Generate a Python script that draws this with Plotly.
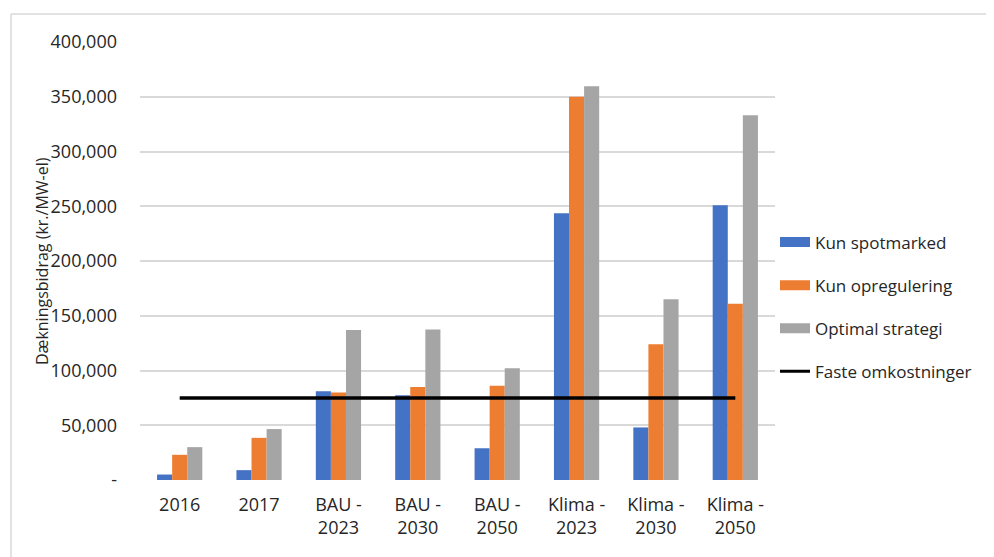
import plotly.graph_objects as go

# categories and series (kr./MW-el)
categories = ["2016", "2017", "BAU -<br>2023", "BAU -<br>2030", "BAU -<br>2050",
              "Klima -<br>2023", "Klima -<br>2030", "Klima -<br>2050"]
kun_spotmarked = [5000, 9000, 81000, 77500, 29000, 243500, 48000, 251000]
kun_opregulering = [23000, 38500, 80000, 85000, 86000, 350000, 124000, 161000]
optimal_strategi = [30000, 46500, 137000, 137500, 102000, 359500, 165000, 333000]
faste_omkostninger = [75000] * len(categories)

y_tickvals = [0, 50000, 100000, 150000, 200000, 250000, 300000, 350000, 400000]
y_ticktext = ["-", "50,000", "100,000", "150,000", "200,000", "250,000",
              "300,000", "350,000", "400,000"]

FONT = "Open Sans"
series = [
    ("Kun spotmarked", kun_spotmarked, "#4472C4"),
    ("Kun opregulering", kun_opregulering, "#ED7D31"),
    ("Optimal strategi", optimal_strategi, "#A5A5A5"),
]

fig = go.Figure()

for name, vals, color in series:
    fig.add_trace(go.Bar(x=categories, y=vals, name=name, marker_color=color,
                         marker_line_width=0, showlegend=False))

fig.add_trace(go.Scatter(x=categories, y=faste_omkostninger, mode="lines",
                         line=dict(color="black", width=3.5), showlegend=False))

# legend entries drawn as wide swatches
for i, (name, vals, color) in enumerate(series):
    fig.add_trace(go.Scatter(x=[None], y=[None], mode="lines", name=name,
                             legendgroup=str(i), line=dict(color=color, width=10)))
fig.add_trace(go.Scatter(x=[None], y=[None], mode="lines", name="Faste omkostninger",
                         legendgroup="3", line=dict(color="black", width=3)))

# page is drawn with an 8px body margin, so work in figure pixels = screen - 8
PL, PT, PW, PH = 132, 34, 635, 438


def px_x(x):
    return (x - 8 - PL) / PW


def px_y(y):
    return 1 - (y - 8 - PT) / PH


# outer frame (left and top edges)
fig.add_shape(type="line", xref="paper", yref="paper",
              x0=px_x(11), x1=px_x(11), y0=px_y(14), y1=-0.5,
              line=dict(color="#d9d9d9", width=1.5))
fig.add_shape(type="line", xref="paper", yref="paper",
              x0=px_x(11), x1=1.5, y0=px_y(14), y1=px_y(14),
              line=dict(color="#d9d9d9", width=1.5))

fig.add_annotation(text="Dækningsbidrag (kr./MW-el)", textangle=-90,
                   xref="paper", yref="paper", x=px_x(29), y=0.5,
                   showarrow=False, font=dict(family=FONT, size=16, color="#262626"))

fig.update_layout(
    width=986, height=549,
    margin=dict(l=PL, r=986 - PL - PW, t=PT, b=549 - PT - PH),
    paper_bgcolor="white", plot_bgcolor="white",
    barmode="group", bargap=0.43, bargroupgap=0,
    font=dict(family=FONT, size=17, color="#262626"),
    legend=dict(x=1.0, xanchor="left", y=px_y(307), yanchor="middle",
                traceorder="grouped", tracegroupgap=18, itemwidth=30,
                font=dict(family=FONT, size=17, color="#262626")),
    xaxis=dict(showgrid=False, showline=False, ticks="", ticklabelstandoff=12,
               tickfont=dict(family=FONT, size=18)),
    yaxis=dict(range=[0, 400000], tickvals=y_tickvals, ticktext=y_ticktext,
               showgrid=True, gridcolor="#d9d9d9", gridwidth=1.5,
               zeroline=False, showline=False, ticks="", ticklabelstandoff=22,
               tickfont=dict(family=FONT, size=18)),
)

fig.write_html("out.html")
